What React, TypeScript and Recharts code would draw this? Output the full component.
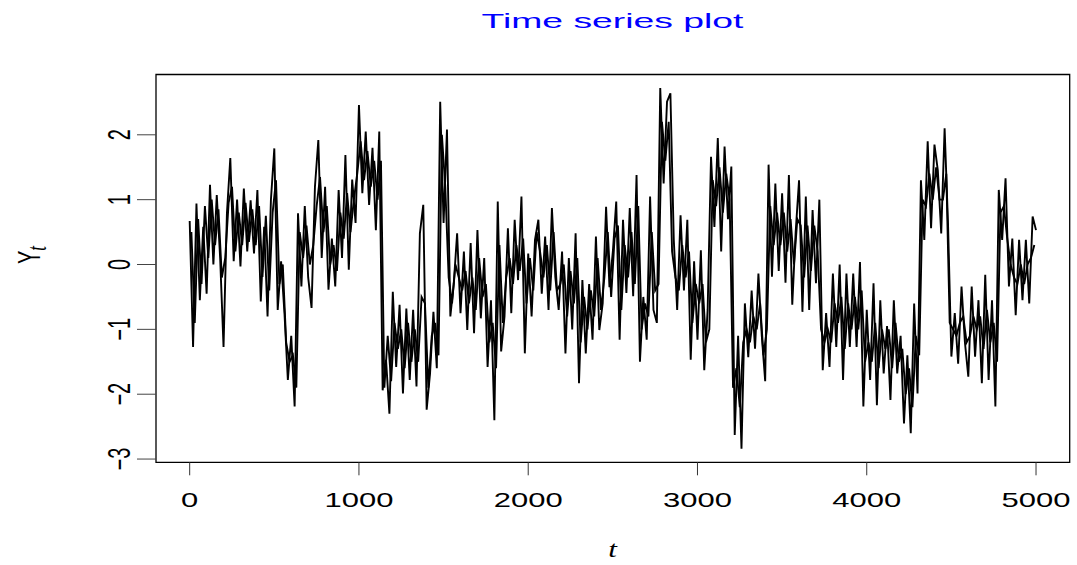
import { LineChart, Line, XAxis, YAxis, ReferenceArea } from "recharts";

// The trace is read off the plot on two interleaved grids:
// "a" values at t = 0, 20, 40 ... 5000 and "b" values at t = 10, 30 ... 4990.
// Both are drawn as lines, which gives the dense look of the 5000-point series.
const STEP = 20;

const a0 = [
  0.67, -1.27, 0.94, -0.55, 0.58, -0.45, 1.23, 0.0, 1.07, 0.1,
  -1.27, 0.79, 1.64, 0.05, 1.0, -0.03, 1.17, 0.2, 0.99, 0.17,
  1.15, -0.57, 0.58, -0.8, 1.0, 1.79, -0.7, 0.05, -0.75, -1.78,
  -1.1, -2.19, 0.79, -0.34, 0.9, -0.2, -0.67, 1.2, 1.92, 0.1,
  1.2, -0.39, 0.4, -0.34, 1.15, 0.1, 1.69, -0.08, 1.31, 0.64,
];
const a1 = [
  2.46, 1.1, 2.05, 0.92, 1.8, 0.53, 2.05, -1.94, -1.47, -2.3,
  -0.42, -1.58, -0.62, -1.99, -0.68, -1.78, -0.7, -1.88, 0.48, 0.92,
  -2.24, -1.68, -0.73, -1.6, 2.51, 0.64, 2.08, -0.8, -0.3, 0.48,
  -0.75, 0.2, -1.01, 0.33, -1.06, 0.53, -0.83, 0.1, -1.58, -0.55,
  -2.4, 0.97, -1.34, -0.8, 0.56, -0.75, 0.69, -0.24, 1.05, -1.37,
];
const a2 = [
  0.17, -0.8, 0.38, 0.69, -0.45, 0.43, -0.7, 0.87, -0.19, -0.7,
  0.2, -1.37, 0.1, -1.0, 0.48, -1.83, -0.24, -1.37, -0.3, -1.16,
  0.43, -1.01, -0.6, 0.89, -0.35, 0.2, 0.97, -1.16, 0.69, -0.44,
  0.87, -0.49, 1.38, -1.5, -0.5, -1.16, 1.05, -0.7, -0.9, 2.72,
  1.25, 2.51, 2.64, 0.38, -0.7, 0.76, -0.4, 0.69, -1.47, 0.05,
];
const a3 = [
  -1.16, 0.22, -1.63, -0.7, 1.66, 0.58, 1.95, 0.2, 1.82, 0.7,
  1.51, -2.63, -1.1, -2.84, -0.6, -1.43, -0.4, -1.3, -0.14, -1.1,
  -1.8, 1.54, -0.19, 1.25, -0.1, 1.1, -0.28, 1.38, -0.62, 0.5,
  1.3, -0.73, 1.05, -0.7, 0.84, -0.29, 1.0, -1.63, -0.75, -1.58,
  -0.14, -1.27, 0.0, -1.78, -0.14, -1.27, -0.14, -1.27, 0.04, -2.19,
];
const a4 = [
  -0.7, -1.78, -0.29, -2.17, -0.55, -1.68, -0.95, -2.09, -0.55, -1.68,
  -1.1, -2.45, -1.4, -2.6, -0.6, -1.99, 1.3, 0.38, 1.9, 0.56,
  1.85, 1.45, 0.48, 2.1, 0.64, -1.42, -0.75, -1.53, -0.34, -1.2,
  -1.73, -0.34, -1.42, -0.55, -1.83, -0.16, -1.78, -0.55, -2.19, 1.15,
  0.38, 1.33, -0.34, 0.4, -0.78, 0.38, -0.55, 0.38, -0.6, 0.74,
  0.53,
];

const b0 = [
  0.5, -0.9, 0.7, -0.3, 0.9, 0.1, 1.0, 0.3, 0.85, -0.2,
  0.1, 0.95, 1.2, 0.2, 0.8, 0.3, 0.95, 0.35, 0.85, 0.3,
  0.9, -0.19, 0.75, -0.4, 0.8, 1.3, -0.3, 0.0, -1.2, -1.5,
  -1.4, -1.9, 0.5, 0.1, 0.6, 0.0, 0.3, 0.9, 1.35, 0.5,
  0.9, 0.0, 0.3, -0.1, 0.8, 0.4, 1.1, 0.5, 1.0, 1.4,
];
const b1 = [
  1.9, 1.3, 1.75, 1.2, 1.6, 1.0, 1.6, -1.9, -1.1, -1.8,
  -0.9, -1.3, -1.0, -1.6, -0.9, -1.5, -1.0, -1.5, -0.5, -0.6,
  -1.9, -1.1, -0.9, -1.4, 2.0, 1.2, -0.2, -0.6, 0.0, -0.2,
  -0.4, -0.1, -0.6, -0.2, -0.7, 0.1, -0.5, -0.3, -1.2, -0.9,
  -1.6, 0.3, -0.9, -0.2, 0.1, -0.3, 0.3, -0.1, 0.4, -0.6,
];
const b2 = [
  0.1, -0.4, 0.5, 0.2, -0.2, 0.3, -0.4, 0.5, -0.4, -0.3,
  0.0, -0.8, -0.1, -0.6, 0.1, -1.2, -0.5, -1.0, -0.4, -0.8,
  0.1, -0.7, -0.2, 0.5, -0.5, 0.4, 0.6, -0.7, 0.3, -0.2,
  0.5, -0.3, 0.9, -1.0, -0.6, -0.8, 0.5, -0.4, -0.3, 2.2,
  1.6, 2.2, 0.2, -0.2, -0.4, 0.3, -0.2, 0.2, -0.9, -0.3,
];
const b3 = [
  -0.6, -0.3, -1.2, -1.0, 1.3, 0.9, 1.5, 0.8, 1.4, 1.0,
  -1.9, -1.6, -2.2, -1.2, -1.0, -1.2, -0.8, -1.0, -0.6, -1.4,
  -1.0, 0.9, 0.3, 0.8, 0.3, 0.8, 0.2, 0.7, 0.0, 0.7,
  0.6, -0.2, 0.6, -0.1, 0.6, 0.2, -1.0, -1.2, -1.0, -1.2,
  -0.6, -0.9, -0.5, -1.3, -0.6, -1.0, -0.5, -1.0, -0.4, -1.5,
];
const b4 = [
  -1.2, -1.5, -0.9, -1.6, -1.0, -1.3, -1.0, -1.6, -0.9, -1.5,
  -1.3, -2.0, -1.6, -2.2, -1.1, -1.4, 1.0, 0.9, 1.4, 1.0,
  1.5, 1.0, 1.0, 1.4, -0.9, -1.0, -1.1, -0.9, -0.8, -1.2,
  -1.1, -0.8, -1.0, -0.8, -1.3, -0.7, -1.2, -0.9, -1.5, 0.8,
  0.9, 0.4, 0.0, -0.2, -0.3, 0.0, -0.3, 0.0, 0.1, 0.3,
];

const xTicks = [0, 1000, 2000, 3000, 4000, 5000];
const yTicks = [-3, -2, -1, 0, 1, 2];

const aVals = [...a0, ...a1, ...a2, ...a3, ...a4];
const bVals = [...b0, ...b1, ...b2, ...b3, ...b4];

type Row = { t: number; a?: number; b?: number };
const data: Row[] = [];
aVals.forEach((v, i) => {
  data.push({ t: i * STEP, a: v });
  if (i < bVals.length) data.push({ t: i * STEP + STEP / 2, b: bVals[i] });
});

const W = 1077;
const H = 565;
const SX = 1.55; // the original figure is stretched sideways
const SANS = "'Liberation Sans', Arial, Helvetica, sans-serif";
const SERIF = "'Liberation Serif', 'DejaVu Serif', serif";

const fmt = (v: number) => (v < 0 ? "\u2212" + Math.abs(v) : String(v));

const XTick = (props: any) => {
  const { x, y, payload } = props;
  return (
    <g transform={`translate(${x},${y + 30}) scale(${SX},1)`}>
      <text textAnchor="middle" fontSize={20} fontFamily={SANS} fill="#000">
        {fmt(payload.value)}
      </text>
    </g>
  );
};

const YTick = (props: any) => {
  const { x, y, payload } = props;
  return (
    <g transform={`translate(${x - 5},${y}) scale(${SX},1) rotate(-90)`}>
      <text textAnchor="middle" fontSize={20} fontFamily={SANS} fill="#000">
        {fmt(payload.value)}
      </text>
    </g>
  );
};

export default function App() {
  return (
    <div style={{ position: "absolute", left: 0, top: 0, width: W, height: H, background: "#fff" }}>
      <LineChart
        width={W}
        height={H}
        data={data}
        margin={{ top: 74.5, right: 7.3, bottom: 0, left: 0 }}
      >
        <XAxis
          type="number"
          dataKey="t"
          domain={[-199, 5199]}
          ticks={xTicks}
          interval={0}
          allowDataOverflow
          axisLine={false}
          tickLine={{ stroke: "#333" }}
          tickSize={13}
          height={102.7}
          tick={(p: any) => <XTick {...p} />}
        />
        <YAxis
          type="number"
          domain={[-3.05, 2.93]}
          ticks={yTicks}
          interval={0}
          allowDataOverflow
          axisLine={false}
          tickLine={{ stroke: "#444" }}
          tickSize={19}
          width={156}
          tick={(p: any) => <YTick {...p} />}
        />
        <ReferenceArea
          x1={-199}
          x2={5199}
          y1={-3.05}
          y2={2.93}
          fill="none"
          stroke="#000"
          strokeWidth={1.3}
          fillOpacity={0}
        />
        <Line
          type="linear"
          dataKey="a"
          stroke="#000"
          strokeWidth={1.9}
          dot={false}
          connectNulls
          isAnimationActive={false}
        />
        <Line
          type="linear"
          dataKey="b"
          stroke="#000"
          strokeWidth={1.9}
          dot={false}
          connectNulls
          isAnimationActive={false}
        />
      </LineChart>
      <svg
        width={W}
        height={H}
        style={{ position: "absolute", left: 0, top: 0, pointerEvents: "none" }}
      >
        <text
          x={612.5}
          y={27.5}
          textAnchor="middle"
          fontSize={20}
          fontFamily={SANS}
          fill="#0000ff"
          textLength={262}
          lengthAdjust="spacingAndGlyphs"
        >
          Time series plot
        </text>
        <g transform={`translate(612.5,557) scale(1.3,1)`}>
          <text textAnchor="middle" fontSize={24} fontFamily={SERIF} fontStyle="italic" fill="#000">
            t
          </text>
        </g>
        <g transform={`translate(40,255) scale(${SX},1) rotate(-90)`}>
          <text textAnchor="middle" fontSize={20} fill="#000">
            <tspan fontFamily={SANS}>Y</tspan>
            <tspan fontFamily={SERIF} fontStyle="italic" fontSize={17} dy={4}>
              t
            </tspan>
          </text>
        </g>
      </svg>
    </div>
  );
}
